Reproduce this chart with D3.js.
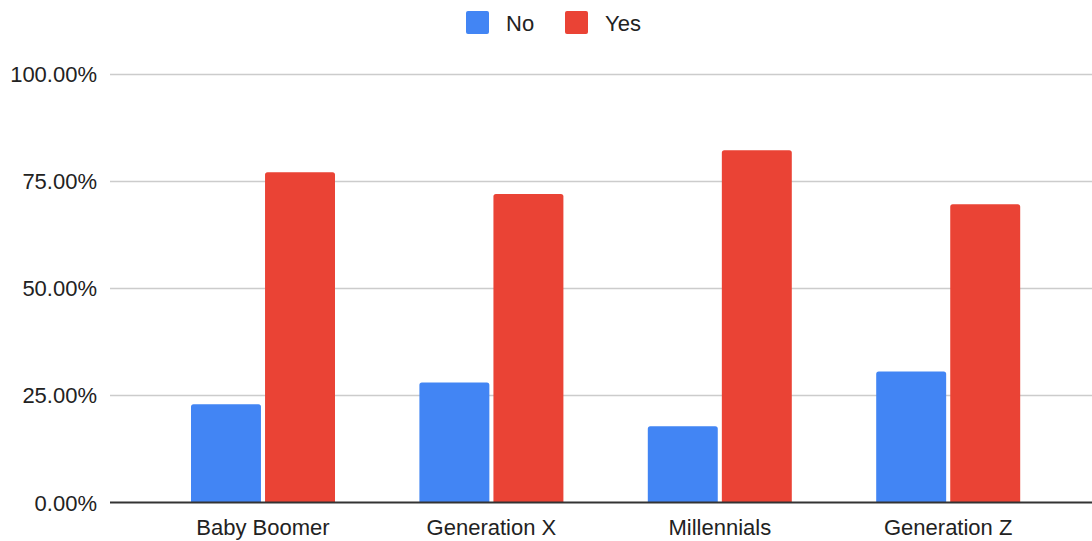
<!DOCTYPE html>
<html><head><meta charset="utf-8">
<script src="https://cdn.jsdelivr.net/npm/d3@7"></script>
<style>html,body{margin:0;padding:0;background:#fff;}svg{display:block;}</style>
</head><body>
<svg id="chart" width="1092" height="541"></svg>
<script>
const categories = ["Baby Boomer", "Generation X", "Millennials", "Generation Z"];
const seriesNames = ["No", "Yes"];
const noValues = [0.229, 0.280, 0.178, 0.306];
const yesValues = [0.771, 0.720, 0.822, 0.696];
const yTicks = [0, 0.25, 0.5, 0.75, 1.0];
const colors = ["#4285f4", "#ea4335"];

const svg = d3.select("#chart");
const font = "Arial, 'Liberation Sans', sans-serif";
const plotLeft = 110, plotRight = 1092;

const y = d3.scaleLinear().domain([0, 1]).range([502.5, 74]);
const x = d3.scaleBand().domain(categories).range([148.8, 1062.4]).padding(0);
const xi = d3.scaleBand().domain(seriesNames).range([-72, 72]).paddingInner(0.055);

// gridlines
svg.append("g").selectAll("line").data(yTicks.filter(t => t > 0)).join("line")
  .attr("x1", plotLeft).attr("x2", plotRight)
  .attr("y1", d => Math.round(y(d)) + 0.5).attr("y2", d => Math.round(y(d)) + 0.5)
  .attr("stroke", "#cccccc").attr("stroke-width", 1.5);

// y tick labels
const fmt = d3.format(".2%");
svg.append("g").selectAll("text").data(yTicks).join("text")
  .attr("x", 97).attr("y", d => y(d) + 8)
  .attr("text-anchor", "end")
  .attr("font-family", font).attr("font-size", 22).attr("fill", "#222")
  .text(d => fmt(d));

// bars
function topRounded(x0, y0, w, h, r) {
  r = Math.min(r, h);
  return `M${x0},${y0 + h}V${y0 + r}Q${x0},${y0} ${x0 + r},${y0}H${x0 + w - r}Q${x0 + w},${y0} ${x0 + w},${y0 + r}V${y0 + h}Z`;
}
const data = [];
categories.forEach((c, i) => {
  data.push({ cat: c, s: "No", v: noValues[i], color: colors[0] });
  data.push({ cat: c, s: "Yes", v: yesValues[i], color: colors[1] });
});
svg.append("g").selectAll("path").data(data).join("path")
  .attr("d", d => {
    const cx = x(d.cat) + x.bandwidth() / 2;
    const x0 = cx + xi(d.s);
    return topRounded(x0, y(d.v), xi.bandwidth(), y(0) - y(d.v), 2.5);
  })
  .attr("fill", d => d.color);

// baseline
svg.append("line").attr("x1", plotLeft).attr("x2", plotRight)
  .attr("y1", y(0)).attr("y2", y(0))
  .attr("stroke", "#333").attr("stroke-width", 2);

// x labels
svg.append("g").selectAll("text").data(categories).join("text")
  .attr("x", d => x(d) + x.bandwidth() / 2).attr("y", 535)
  .attr("text-anchor", "middle")
  .attr("font-family", font).attr("font-size", 22).attr("fill", "#222")
  .text(d => d);

// legend
const legendX = [466, 565];
const lg = svg.append("g").selectAll("g").data(seriesNames).join("g")
  .attr("transform", (d, i) => `translate(${legendX[i]},11)`);
lg.append("rect").attr("width", 23).attr("height", 23).attr("rx", 2)
  .attr("fill", (d, i) => colors[i]);
lg.append("text").attr("x", 40).attr("y", 19.5)
  .attr("font-family", font).attr("font-size", 22).attr("fill", "#222")
  .text(d => d);
</script>
</body></html>
